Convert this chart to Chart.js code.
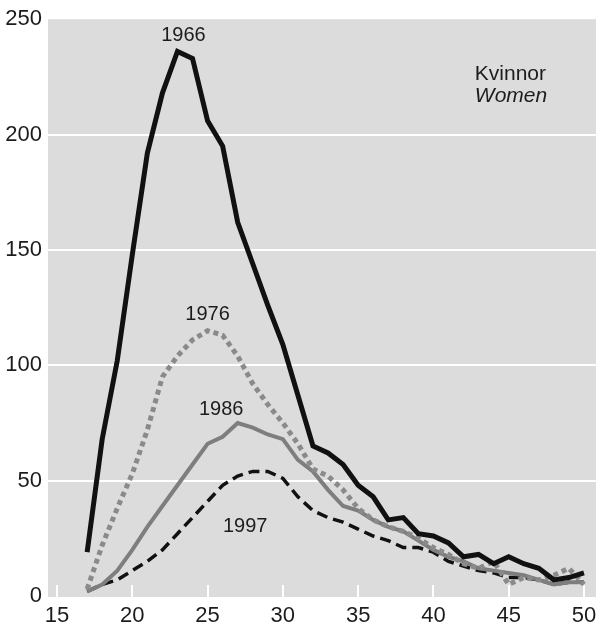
<!DOCTYPE html>
<html>
<head>
<meta charset="utf-8">
<script src="https://cdn.jsdelivr.net/npm/chart.js@4.4.0/dist/chart.umd.min.js"></script>
<style>
  html, body { margin: 0; padding: 0; background: #ffffff; }
  canvas { display: block; }
</style>
</head>
<body>
<canvas id="c" width="609" height="630"></canvas>
<script>
const ages = [17,18,19,20,21,22,23,24,25,26,27,28,29,30,31,32,33,34,35,36,37,38,39,40,41,42,43,44,45,46,47,48,49,50];
const w1966 = [19,68,102,148,192,218,236,233,206,195,162,144,126,109,87,65,62,57,48,43,33,34,27,26,23,17,18,14,17,14,12,7,8,10];
const w1976 = [3,22,38,53,72,95,104,111,115,113,104,92,83,75,66,55,52,46,38,33,30,28,25,21,18,14,12,15,5,8,7,9,12,5];
const w1986 = [2,5,11,20,30,39,48,57,66,69,75,73,70,68,59,54,46,39,37,33,30,28,24,20,17,15,12,11,10,9,7,5,6,6];
const w1997 = [2,5,7,11,15,20,27,34,41,48,52,54,54,51,43,37,34,32,29,26,24,21,21,19,15,13,11,10,8,8,7,5,6,6];
const xTicks = [15,20,25,30,35,40,45,50];
const yTicks = [0,50,100,150,200,250];
const seriesLabels = ['1966','1976','1986','1997'];
const labelAt = [[23.4,243],[25.0,122],[25.9,81],[27.5,30]];
const titleLines = ['Kvinnor','Women'];
const titleAt = [[42.75,226],[42.75,216.5]];

const FONT = "'Liberation Sans Narrow', 'Liberation Sans', Arial, sans-serif";

function pts(arr){ return ages.map((a,i)=>({x:a, y:arr[i]})); }

const panelPlugin = {
  id: 'panel',
  beforeDraw(chart){
    const {ctx, chartArea:a} = chart;
    ctx.save();
    ctx.fillStyle = '#dcdcdc';
    ctx.fillRect(a.left, a.top, a.right-a.left, a.bottom-a.top);
    ctx.restore();
  },
  beforeDatasetsDraw(chart){
    const {ctx, chartArea:a, scales} = chart;
    ctx.save();
    ctx.strokeStyle = '#ffffff';
    ctx.lineWidth = 2;
    xTicks.forEach(v=>{
      const x = Math.round(scales.x.getPixelForValue(v));
      ctx.beginPath();
      ctx.moveTo(x, a.bottom);
      ctx.lineTo(x, a.bottom-12);
      ctx.stroke();
    });
    ctx.restore();
  },
  afterDatasetsDraw(chart){
    const {ctx, scales} = chart;
    ctx.save();
    ctx.fillStyle = '#1c1c1c';
    ctx.textBaseline = 'middle';
    ctx.font = "20px " + FONT;
    ctx.textAlign = 'center';
    seriesLabels.forEach((t,i)=>{
      ctx.fillText(t, scales.x.getPixelForValue(labelAt[i][0]), scales.y.getPixelForValue(labelAt[i][1]));
    });
    ctx.textAlign = 'left';
    ctx.font = "21px " + FONT;
    ctx.fillText(titleLines[0], scales.x.getPixelForValue(titleAt[0][0]), scales.y.getPixelForValue(titleAt[0][1]));
    ctx.font = "italic 21px " + FONT;
    ctx.fillText(titleLines[1], scales.x.getPixelForValue(titleAt[1][0]), scales.y.getPixelForValue(titleAt[1][1]));
    ctx.restore();
  }
};

new Chart(document.getElementById('c'), {
  type: 'line',
  data: {
    datasets: [
      { label:'1966', data: pts(w1966), borderColor:'#111111', borderWidth:5, pointRadius:0, tension:0, borderJoinStyle:'miter' },
      { label:'1976', data: pts(w1976), borderColor:'#8a8a8a', borderWidth:5, borderDash:[5,4], borderCapStyle:'butt', pointRadius:0, tension:0 },
      { label:'1986', data: pts(w1986), borderColor:'#7e7e7e', borderWidth:4, pointRadius:0, tension:0 },
      { label:'1997', data: pts(w1997), borderColor:'#111111', borderWidth:3.5, borderDash:[11,6], pointRadius:0, tension:0 }
    ]
  },
  options: {
    responsive: false,
    animation: false,
    layout: { padding: { top: 15, right: 13, left: 0, bottom: 0 } },
    plugins: { legend: { display:false }, tooltip: { enabled:false } },
    scales: {
      x: {
        type: 'linear', min: 14.4, max: 50.8,
        afterBuildTicks: s => { s.ticks = xTicks.map(v=>({value:v})); },
        afterFit: s => { s.height = 33; },
        grid: { display:false, drawTicks:false },
        border: { display:false },
        ticks: { padding: 6, color:'#1c1c1c', font:{ family: FONT, size: 22 } }
      },
      y: {
        type: 'linear', min: -0.43, max: 250,
        afterBuildTicks: s => { s.ticks = yTicks.map(v=>({value:v})); },
        afterFit: s => { s.width = 48; },
        grid: {
          drawTicks:false, lineWidth:2,
          color: c => (c.tick && (c.tick.value === 0 || c.tick.value === 250)) ? 'rgba(0,0,0,0)' : '#ffffff'
        },
        border: { display:false },
        ticks: { padding: 6, color:'#1c1c1c', font:{ family: FONT, size: 22 } }
      }
    }
  },
  plugins: [panelPlugin]
});
</script>
</body>
</html>
